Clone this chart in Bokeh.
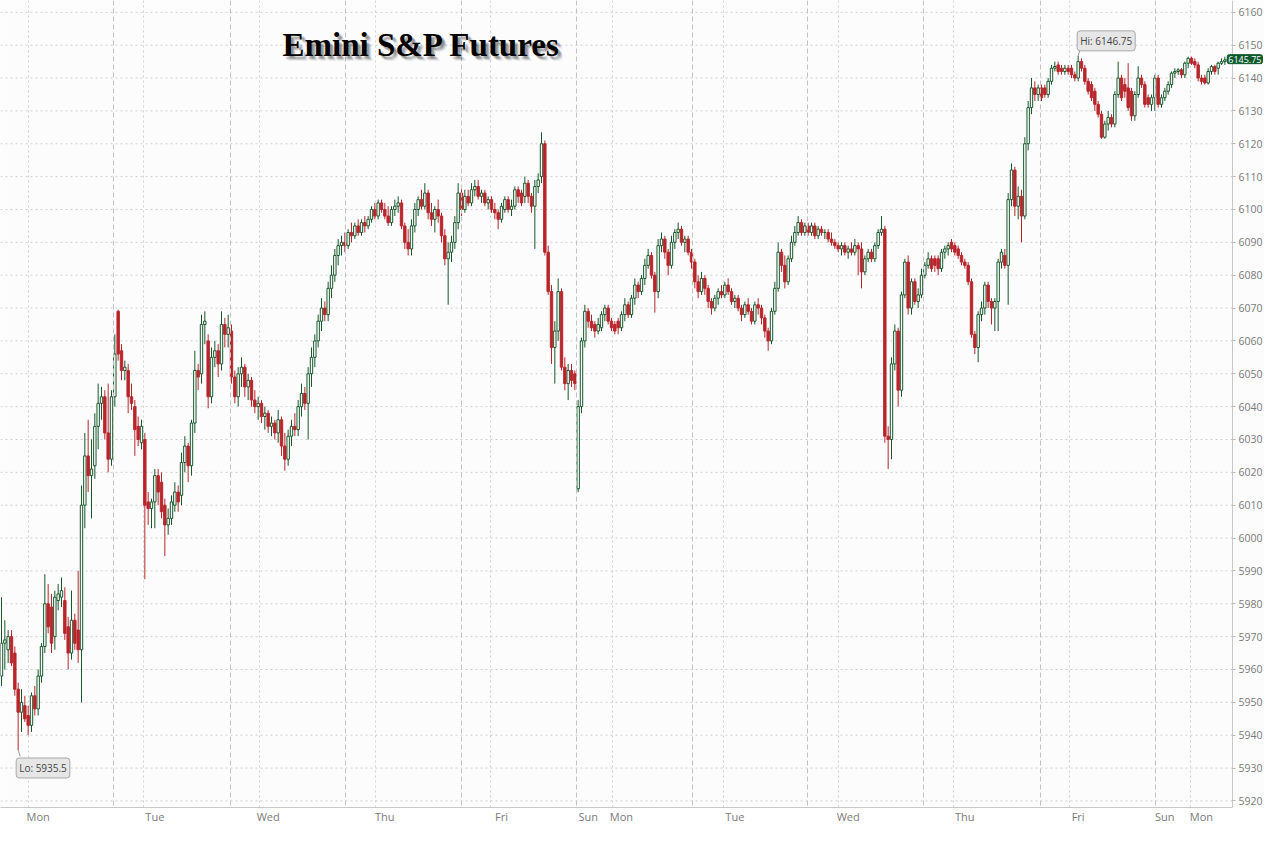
import numpy as np
from bokeh.plotting import figure
from bokeh.models import Range1d, FixedTicker, Span, Label, ColumnDataSource
from bokeh.embed import file_html
from bokeh.resources import INLINE

# ---------------- data (40-minute bars) ----------------
opens = [
5958,5968,5966,5970,5965,5954,5947,5949,5946,5943,
5952,5948,5958,5967,5980,5979,5970,5981,5982,5981,
5973,5965,5975,5972,5966,6010,6025,6019,6022,6034,
6041,6043,6032,6024,6043,6069,6057,6051,6051,6043,
6040,6034,6029,6030,6011,6009,6011,6019,6017,6010,
6004,6006,6010,6014,6013,6023,6028,6022,6035,6051,
6050,6065,6060,6043,6055,6057,6053,6065,6062,6063,
6049,6043,6050,6052,6046,6048,6042,6040,6041,6037,
6038,6034,6035,6032,6036,6028,6024,6031,6034,6033,
6040,6044,6041,6050,6055,6060,6066,6070,6068,6076,
6080,6086,6089,6090,6089,6093,6092,6095,6093,6096,
6095,6097,6100,6098,6102,6100,6098,6096,6100,6101,
6102,6095,6090,6088,6095,6100,6103,6101,6105,6099,
6097,6100,6098,6092,6085,6087,6090,6096,6105,6100,
6104,6102,6106,6107,6104,6105,6102,6103,6100,6099,
6097,6100,6103,6100,6101,6106,6105,6104,6108,6104,
6101,6107,6110,6120,6087,6075,6058,6063,6075,6052,
6047,6051,6050,6015,6040,6060,6069,6066,6065,6063,
6064,6068,6070,6066,6065,6066,6064,6068,6071,6068,
6073,6077,6075,6079,6083,6086,6080,6075,6089,6091,
6087,6083,6090,6093,6094,6090,6091,6087,6084,6078,
6075,6079,6076,6072,6070,6073,6075,6074,6077,6075,
6072,6073,6070,6068,6071,6069,6066,6071,6070,6067,
6063,6060,6069,6076,6087,6083,6078,6085,6090,6093,
6096,6093,6095,6093,6095,6092,6094,6093,6093,6091,
6090,6089,6088,6089,6087,6088,6087,6089,6088,6081,
6085,6087,6085,6089,6093,6094,6031,6030,6053,6063,
6045,6074,6084,6070,6078,6072,6074,6080,6083,6085,
6085,6085,6082,6087,6088,6090,6089,6088,6086,6084,
6083,6078,6062,6058,6068,6070,6077,6072,6070,6072,
6084,6086,6083,6103,6112,6101,6104,6098,6120,6131,
6137,6135,6137,6137,6135,6139,6143,6144,6143,6142,
6143,6143,6141,6140,6145,6143,6139,6138,6136,6132,
6129,6122,6126,6128,6126,6135,6140,6138,6137,6136,
6128.5,6135,6140,6138,6134,6132,6134,6140,6132,6134,
6136,6138,6141.5,6142,6142.5,6141,6144.5,6146,6145,6144,
6140,6140,6138.5,6142,6143.5,6143,6144.5,6145,6145.5,
]
highs = [
5982,5975,5972,5972,5967,5956,5954,5952,5949,5953,
5955,5960,5968,5989,5986,5983,5984,5986,5988,5985,
5976,5984,5977,5990,6016,6032,6036,6030,6038,6047,
6046,6045,6047,6045,6062,6069.5,6059,6054,6053,6047,
6042,6037,6036,6032,6014,6012,6021,6021,6020,6012,
6009,6013,6017,6016,6026,6031,6029,6036,6057,6053,
6068,6069,6062,6058,6060,6059,6069,6067,6068,6065,
6051,6052,6055,6053,6050,6049,6045,6043,6042,6040,
6039,6037,6036,6039,6037,6032,6033,6036,6038,6042,
6047,6046,6052,6058,6062,6068,6073,6072,6078,6083,
6088,6091,6092,6093,6094,6096,6096,6097,6097,6098,
6098,6101,6102,6103,6103,6102,6101,6101,6103,6104,
6103,6096,6094,6097,6102,6104,6106,6108,6106,6102,
6101,6103,6099,6094,6090,6092,6098,6108,6107,6106,
6106,6108,6109,6109,6106,6106,6104,6104,6102,6100,
6102,6104,6104,6103,6107,6107,6106,6110,6109,6105,
6109,6111,6123.5,6121,6089,6077,6066,6079,6076,6055,
6053,6053,6051,6042,6061,6071,6070,6068,6066,6067,
6069,6071,6071,6067,6066,6067,6069,6073,6072,6074,
6079,6078,6080,6085,6088,6087,6081,6091,6093,6092,
6088,6092,6094,6096,6095,6092,6092,6088,6085,6080,
6081,6080,6077,6073,6074,6076,6077,6078,6079,6076,
6074,6074,6071,6072,6073,6070,6072,6073,6071,6068,
6064,6070,6078,6090,6088,6086,6086,6092,6095,6098,
6097,6096,6096,6096,6096,6095,6095,6094,6094,6093,
6091,6090,6090,6090,6089,6090,6091,6090,6090,6086,
6088,6088,6090,6094,6098,6095,6034,6055,6065,6064,
6075,6085,6086,6079,6079,6076,6082,6084,6087,6086,
6086,6086,6088,6089,6090,6091,6090,6089,6087,6085,
6084,6079,6063,6069,6072,6078,6078,6073,6073,6085,
6088,6088,6105,6114,6113,6107,6106,6122,6133,6140,
6139,6138,6138,6138,6140,6144,6145,6145,6144,6144,
6144,6144,6142,6146.75,6146,6144,6140,6139,6137,6133,
6130,6127,6130,6129,6136,6145,6141,6140,6144.5,6137,
6136,6143.6,6141,6139,6135,6135,6141,6141,6135,6137,
6139,6142,6143,6143,6143,6145,6146.5,6146.5,6146,6145,
6141,6141,6143,6144,6144,6145,6146,6146.5,6146.5,
]
lows = [
5955,5960,5962,5961,5952,5935.5,5941,5944,5940,5941,
5946,5946,5956,5965,5971,5965,5966,5978,5979,5969,
5960,5963,5966,5962,5950,6003,6014,6006,6018,6027,
6036,6030,6020,6022,6040,6054,6048,6048,6038,6039,
6025,6028,6027,5987.5,6004,6003,6003,6010,6006,5994.5,
6001,6004,6008,6008,6010,6020,6017,6019,6032,6045,
6047,6059,6039.5,6041,6052,6049,6051,6058,6058,6047,
6041,6040,6046,6043,6042,6040,6038,6036,6035,6033,
6032,6031,6030,6029,6025,6020.5,6022,6028,6031,6031,
6037,6039,6030,6046,6052,6058,6063,6066,6066,6073,
6078,6083,6086,6087,6088,6090,6091,6092,6092,6093,
6094,6096,6097,6097,6099,6097,6095,6095,6098,6099,
6094,6088,6086,6086,6093,6098,6100,6100,6097,6095,
6093,6096,6090,6083,6071,6084,6088,6094,6098,6099,
6101,6101,6104,6103,6102,6101,6100,6099,6097,6094,
6096,6099,6099,6098,6100,6102,6101,6102,6102,6099,
6088,6105,6108,6086,6074,6053,6047,6060,6051,6045,
6042,6046,6045,6014,6038,6058,6064,6063,6061,6062,
6063,6066,6065,6063,6062,6062,6063,6066,6067,6067,
6071,6073,6074,6077,6082,6079,6068.6,6073,6087,6085,
6080,6082,6088,6091,6089,6087,6086,6082,6076,6073,
6074,6074,6070,6068,6069,6071,6073,6073,6074,6071,
6070,6069,6066,6067,6068,6065,6065,6068,6065,6061,
6057,6059,6068,6075,6081,6076,6077,6084,6089,6092,
6092,6092,6092,6092,6091,6091,6092,6091,6090,6089,
6088,6087,6086,6086,6085,6086,6086,6080,6076,6080,
6084,6084,6084,6088,6092,6029,6021,6024,6051,6040,
6043,6073,6068,6068,6071,6070,6073,6079,6082,6081,
6081,6080,6081,6085,6086,6087,6086,6085,6083,6082,
6077,6061,6056,6053.5,6066,6068,6070,6065,6063,6063,
6082,6082,6071,6101,6098,6097,6090,6097,6118,6129,
6133,6133,6133,6134,6134,6138,6142,6141,6141,6141,
6141,6140,6139,6139,6142,6138,6135,6133,6130,6128,
6121.5,6121.5,6124,6125,6125,6134,6133,6134,6130,6127,
6127,6134,6137,6131,6131,6130,6130,6131,6131,6133,
6135,6137,6140,6141,6140,6140,6143,6144,6143,6139,
6138,6138,6138,6141,6141,6141,6144,6144,6145,
]
closes = [
5968,5969,5970,5962,5954,5947,5950,5945,5943,5952,
5948,5958,5967,5980,5973,5968,5982,5983,5984,5971,
5965,5975,5968,5966,6010,6025,6019,6021,6034,6041,
6043,6032,6024,6043,6056,6056,6051,6052,6043,6041,
6033,6030,6034,6010,6009,6011,6019,6014,6008,6004,
6006,6011,6014,6011,6023,6028,6022,6035,6051,6049,
6065,6066,6043,6055,6057,6053,6065,6062,6064,6049,
6043,6050,6052,6046,6048,6042,6040,6041,6037,6038,
6034,6035,6032,6036,6028,6024,6031,6034,6033,6040,
6044,6041,6050,6055,6060,6066,6070,6068,6076,6080,
6086,6089,6090,6089,6093,6092,6095,6093,6096,6095,
6097,6100,6098,6102,6100,6098,6096,6100,6101,6102,
6095,6090,6088,6095,6100,6103,6101,6105,6099,6097,
6100,6098,6092,6085,6087,6090,6096,6105,6100,6104,
6102,6106,6107,6104,6105,6102,6103,6100,6099,6097,
6101,6103,6100,6101,6106,6104,6102,6108,6104,6101,
6107,6109,6120,6087,6075,6058,6063,6075,6052,6047,
6051,6048,6047,6040,6060,6069,6066,6064,6063,6065,
6068,6070,6066,6064,6063,6064,6068,6071,6068,6073,
6077,6075,6079,6083,6086,6080,6075,6089,6091,6087,
6083,6090,6093,6094,6090,6091,6087,6084,6078,6075,
6079,6076,6072,6070,6073,6075,6074,6077,6075,6072,
6073,6070,6068,6071,6069,6066,6071,6070,6067,6063,
6060,6069,6076,6087,6083,6078,6085,6090,6093,6096,
6093,6095,6093,6095,6092,6094,6093,6093,6091,6090,
6089,6088,6089,6087,6088,6087,6089,6088,6081,6085,
6087,6085,6089,6093,6094,6031,6030,6053,6063,6045,
6074,6084,6070,6078,6072,6074,6080,6083,6085,6082,
6083,6082,6087,6088,6089,6088,6087,6086,6084,6083,
6078,6062,6058,6068,6070,6077,6072,6070,6072,6084,
6087,6083,6103,6112,6101,6104,6098,6120,6131,6137,
6135,6137,6134,6135,6139,6143,6143.5,6142,6142,6143,
6142,6141,6140,6145,6143,6139,6136,6134,6132,6129,
6122,6126,6128,6126,6135,6140,6134,6136,6131,6128.5,
6135,6140,6138,6132,6132,6134,6140,6132,6134,6136,
6138,6141.5,6142,6142.5,6141,6144.5,6146,6144.5,6144,6140,
6139,6138.5,6142,6143.5,6142,6144.5,6145,6145.5,6145.75,
]

# time axis (bar-index units): midnights / session starts
day_ticks = [8.1, 42.6, 77.4, 112.2, 146.7, 172.5, 183.3, 216.6, 251.1, 285.6, 320.4, 346.2, 356.7]
day_labels = ["Mon", "Tue", "Wed", "Thu", "Fri", "Sun", "Mon", "Tue", "Wed", "Thu", "Fri", "Sun", "Mon"]
session_ticks = [33.6, 68.7, 103.2, 138.0, 172.5, 207.3, 241.8, 276.6, 311.7, 346.2]
price_ticks = list(range(5920, 6161, 10))
title_text = "Emini S&P Futures"

# ---------------- build ----------------
o = np.array(opens, dtype=float)
h = np.array(highs, dtype=float)
l = np.array(lows, dtype=float)
c = np.array(closes, dtype=float)
n = len(c)
x = np.arange(n)
up = c >= o
dn = ~up

GREEN = "#17572b"
RED = "#b8262c"
FONT = "Open Sans"
X0, XB, X1 = -0.3, 369.3, 378.9   # left edge, price-axis position, right edge (bar units)

p = figure(width=1264, height=826,
           x_range=Range1d(X0, X1), y_range=Range1d(5918.0, 6163.6),
           y_axis_location="right", output_backend="svg", toolbar_location=None,
           min_border_left=0, min_border_top=0, min_border_right=0, min_border_bottom=15)
p.background_fill_color = "#fcfcfc"
p.border_fill_color = "#ffffff"
p.outline_line_color = None

# grids
midnights = [t for t, lab in zip(day_ticks, day_labels) if lab != "Sun"]
p.xgrid.ticker = FixedTicker(ticks=midnights)
p.xgrid.grid_line_color = "#d0d0d0"
p.xgrid.grid_line_dash = "2 3"
p.ygrid.visible = False
p.segment(x0=[X0] * len(price_ticks), x1=[XB] * len(price_ticks), y0=price_ticks, y1=price_ticks,
          line_color="#d0d0d0", line_dash="2 3", line_width=1)
for t in session_ticks:
    p.add_layout(Span(location=t, dimension="height", line_color="#c2c2c2",
                      line_dash="5 3", line_width=1))

# x axis
label_pos = [int(round(t + 3)) for t in day_ticks]
p.xaxis.ticker = FixedTicker(ticks=label_pos)
p.xaxis.major_label_overrides = {pos: lab for pos, lab in zip(label_pos, day_labels)}
p.xaxis.bounds = (X0, XB)
p.xaxis.major_tick_line_color = None
p.xaxis.major_tick_out = 0
p.xaxis.major_tick_in = 0
p.xaxis.minor_tick_line_color = None
p.xaxis.axis_line_color = "#c8c8c8"
p.xaxis.major_label_text_color = "#7a7a7a"
p.xaxis.major_label_text_font = FONT
p.xaxis.major_label_text_font_size = "11px"
p.xaxis.major_label_standoff = 1

# y axis (price scale sits just right of the data area)
p.yaxis.fixed_location = XB
p.yaxis.ticker = FixedTicker(ticks=price_ticks)
p.yaxis.minor_tick_line_color = None
p.yaxis.major_tick_in = 0
p.yaxis.major_tick_out = 3
p.yaxis.major_tick_line_color = "#b8b8b8"
p.yaxis.axis_line_color = "#c8c8c8"
p.yaxis.major_label_text_color = "#7a7a7a"
p.yaxis.major_label_text_font = FONT
p.yaxis.major_label_text_font_size = "10.5px"
p.yaxis.major_label_standoff = 3

# candles
su = ColumnDataSource(dict(x=x[up], o=o[up], h=h[up], l=l[up], c=c[up]))
sd = ColumnDataSource(dict(x=x[dn], o=o[dn], h=h[dn], l=l[dn], c=c[dn]))
p.segment(x0="x", y0="h", x1="x", y1="l", source=su, line_color=GREEN, line_width=1)
p.segment(x0="x", y0="h", x1="x", y1="l", source=sd, line_color=RED, line_width=1)
p.vbar(x="x", width=0.72, top="c", bottom="o", source=su,
       fill_color="#ffffff", line_color=GREEN, line_width=1)
p.vbar(x="x", width=0.72, top="o", bottom="c", source=sd,
       fill_color=RED, line_color=RED, line_width=1)

# title with soft shadow
tx, ty = 282, 763
for dx, dy in [(2, -2), (3, -3), (4, -4), (3, -2), (2, -3), (4, -3), (3, -4), (5, -5)]:
    p.add_layout(Label(x=tx + dx, y=ty + dy, x_units="screen", y_units="screen",
                       text=title_text, text_font="Liberation Serif", text_font_style="bold",
                       text_font_size="33px", text_color="#000000", text_alpha=0.08,
                       text_baseline="middle"))
p.add_layout(Label(x=tx, y=ty, x_units="screen", y_units="screen",
                   text=title_text, text_font="Liberation Serif", text_font_style="bold",
                   text_font_size="33px", text_color="#000000", text_baseline="middle"))

# Hi / Lo callouts
hi_i = int(np.argmax(h))
lo_i = int(np.argmin(l))
p.segment(x0=[hi_i, lo_i], y0=[h[hi_i], l[lo_i]], x1=[hi_i + 0.6, lo_i + 0.6],
          y1=[h[hi_i] + 1.9, l[lo_i] - 1.9], line_color="#9a9a9a", line_width=1)
p.add_layout(Label(x=hi_i, y=h[hi_i], text=f"Hi: {h[hi_i]:g}", x_offset=-1, y_offset=5,
                   text_align="left", text_baseline="bottom", text_font=FONT,
                   text_font_size="10px", text_color="#444444",
                   background_fill_color="#e6e6e6", border_line_color="#a8a8a8",
                   border_radius=3, padding=3))
p.add_layout(Label(x=lo_i, y=l[lo_i], text=f"Lo: {l[lo_i]:g}", x_offset=-2, y_offset=-8,
                   text_align="left", text_baseline="top", text_font=FONT,
                   text_font_size="10px", text_color="#444444",
                   background_fill_color="#e6e6e6", border_line_color="#a8a8a8",
                   border_radius=3, padding=3))

# last price tag on the price scale (kept inside the page width)
p.add_layout(Label(x=X1, y=c[-1], text=f"{c[-1]:.2f}", x_offset=-2,
                   text_align="right", text_baseline="middle",
                   text_font=FONT, text_font_size="9px", text_color="#ffffff",
                   background_fill_color="#0d5a2c", border_line_color="#0d5a2c",
                   border_radius=2, padding=1))

open("out.html", "w").write(file_html(p, INLINE))
